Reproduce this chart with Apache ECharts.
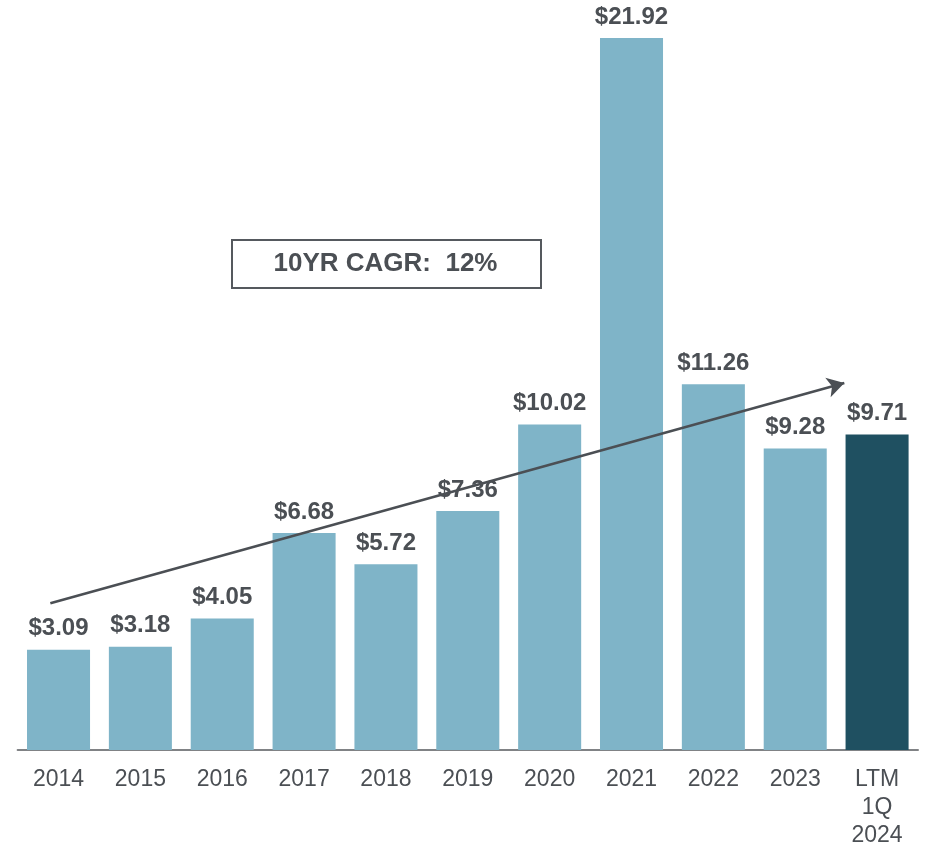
<!DOCTYPE html>
<html>
<head>
<meta charset="utf-8">
<script src="https://cdn.jsdelivr.net/npm/echarts@6/dist/echarts.min.js"></script>
<style>
  html, body { margin: 0; padding: 0; background: #fff; }
  #chart { width: 926px; height: 843px; }
</style>
</head>
<body>
<div id="chart"></div>
<script>
const categories = ["2014", "2015", "2016", "2017", "2018", "2019", "2020", "2021", "2022", "2023", "LTM\n1Q\n2024"];
const values = [3.09, 3.18, 4.05, 6.68, 5.72, 7.36, 10.02, 21.92, 11.26, 9.28, 9.71];
const highlight = [false, false, false, false, false, false, false, false, false, false, true];
// trend arrow: start / end heights (value units) and x offsets in category widths
const trendValues = [4.52, 11.3];
const trendOffsets = [-0.1, -0.4];
const cagrText = "10YR CAGR:  12%";

const textColor = "#4b4f54";
const lightBar = "#7fb4c8";
const darkBar = "#1f5061";

const chart = echarts.init(document.getElementById("chart"));

chart.setOption({
  animation: false,
  grid: { left: 17.6, right: 8, top: 35.4, bottom: 93, containLabel: false, outerBoundsMode: "none" },
  xAxis: {
    type: "category",
    data: categories,
    axisTick: { show: false },
    axisLine: { show: true, lineStyle: { color: "#808285", width: 2 } },
    axisLabel: {
      color: textColor,
      fontFamily: "Liberation Sans",
      fontSize: 23,
      lineHeight: 28,
      margin: 16,
      interval: 0,
    },
  },
  yAxis: {
    type: "value",
    min: 0,
    max: 22,
    show: false,
    splitLine: { show: false },
  },
  series: [
    {
      type: "bar",
      barCategoryGap: "23%",
      data: values.map((v, i) => ({
        value: v,
        itemStyle: { color: highlight[i] ? darkBar : lightBar },
      })),
      label: {
        show: true,
        position: "top",
        distance: 9,
        color: textColor,
        fontFamily: "Liberation Sans",
        fontWeight: "bold",
        fontSize: 24,
        formatter: (p) => "$" + p.value.toFixed(2),
      },
    },
  ],
});

// place the trend arrow and CAGR box using the chart's own scales
const band = chart.convertToPixel({ xAxisIndex: 0 }, categories[1]) - chart.convertToPixel({ xAxisIndex: 0 }, categories[0]);
const p0 = chart.convertToPixel({ gridIndex: 0 }, [categories[0], trendValues[0]]);
const p1 = chart.convertToPixel({ gridIndex: 0 }, [categories[categories.length - 1], trendValues[1]]);
p0[0] += trendOffsets[0] * band;
p1[0] += trendOffsets[1] * band;

chart.setOption({
  series: [
    {
      markLine: {
        silent: true,
        symbol: ["none", "arrow"],
        symbolSize: [15, 17],
        label: { show: false },
        lineStyle: { color: textColor, width: 2.5, type: "solid" },
        data: [[{ x: p0[0], y: p0[1] }, { x: p1[0], y: p1[1] }]],
      },
    },
  ],
  graphic: [
    {
      type: "rect",
      left: 231,
      top: 239,
      shape: { width: 309, height: 48 },
      style: { fill: "#fff", stroke: "#55595e", lineWidth: 2 },
    },
    {
      type: "text",
      x: 385.5,
      y: 264,
      style: {
        text: cagrText,
        fill: textColor,
        font: "bold 26px 'Liberation Sans'",
        align: "center",
        verticalAlign: "middle",
      },
    },
  ],
});
</script>
</body>
</html>
